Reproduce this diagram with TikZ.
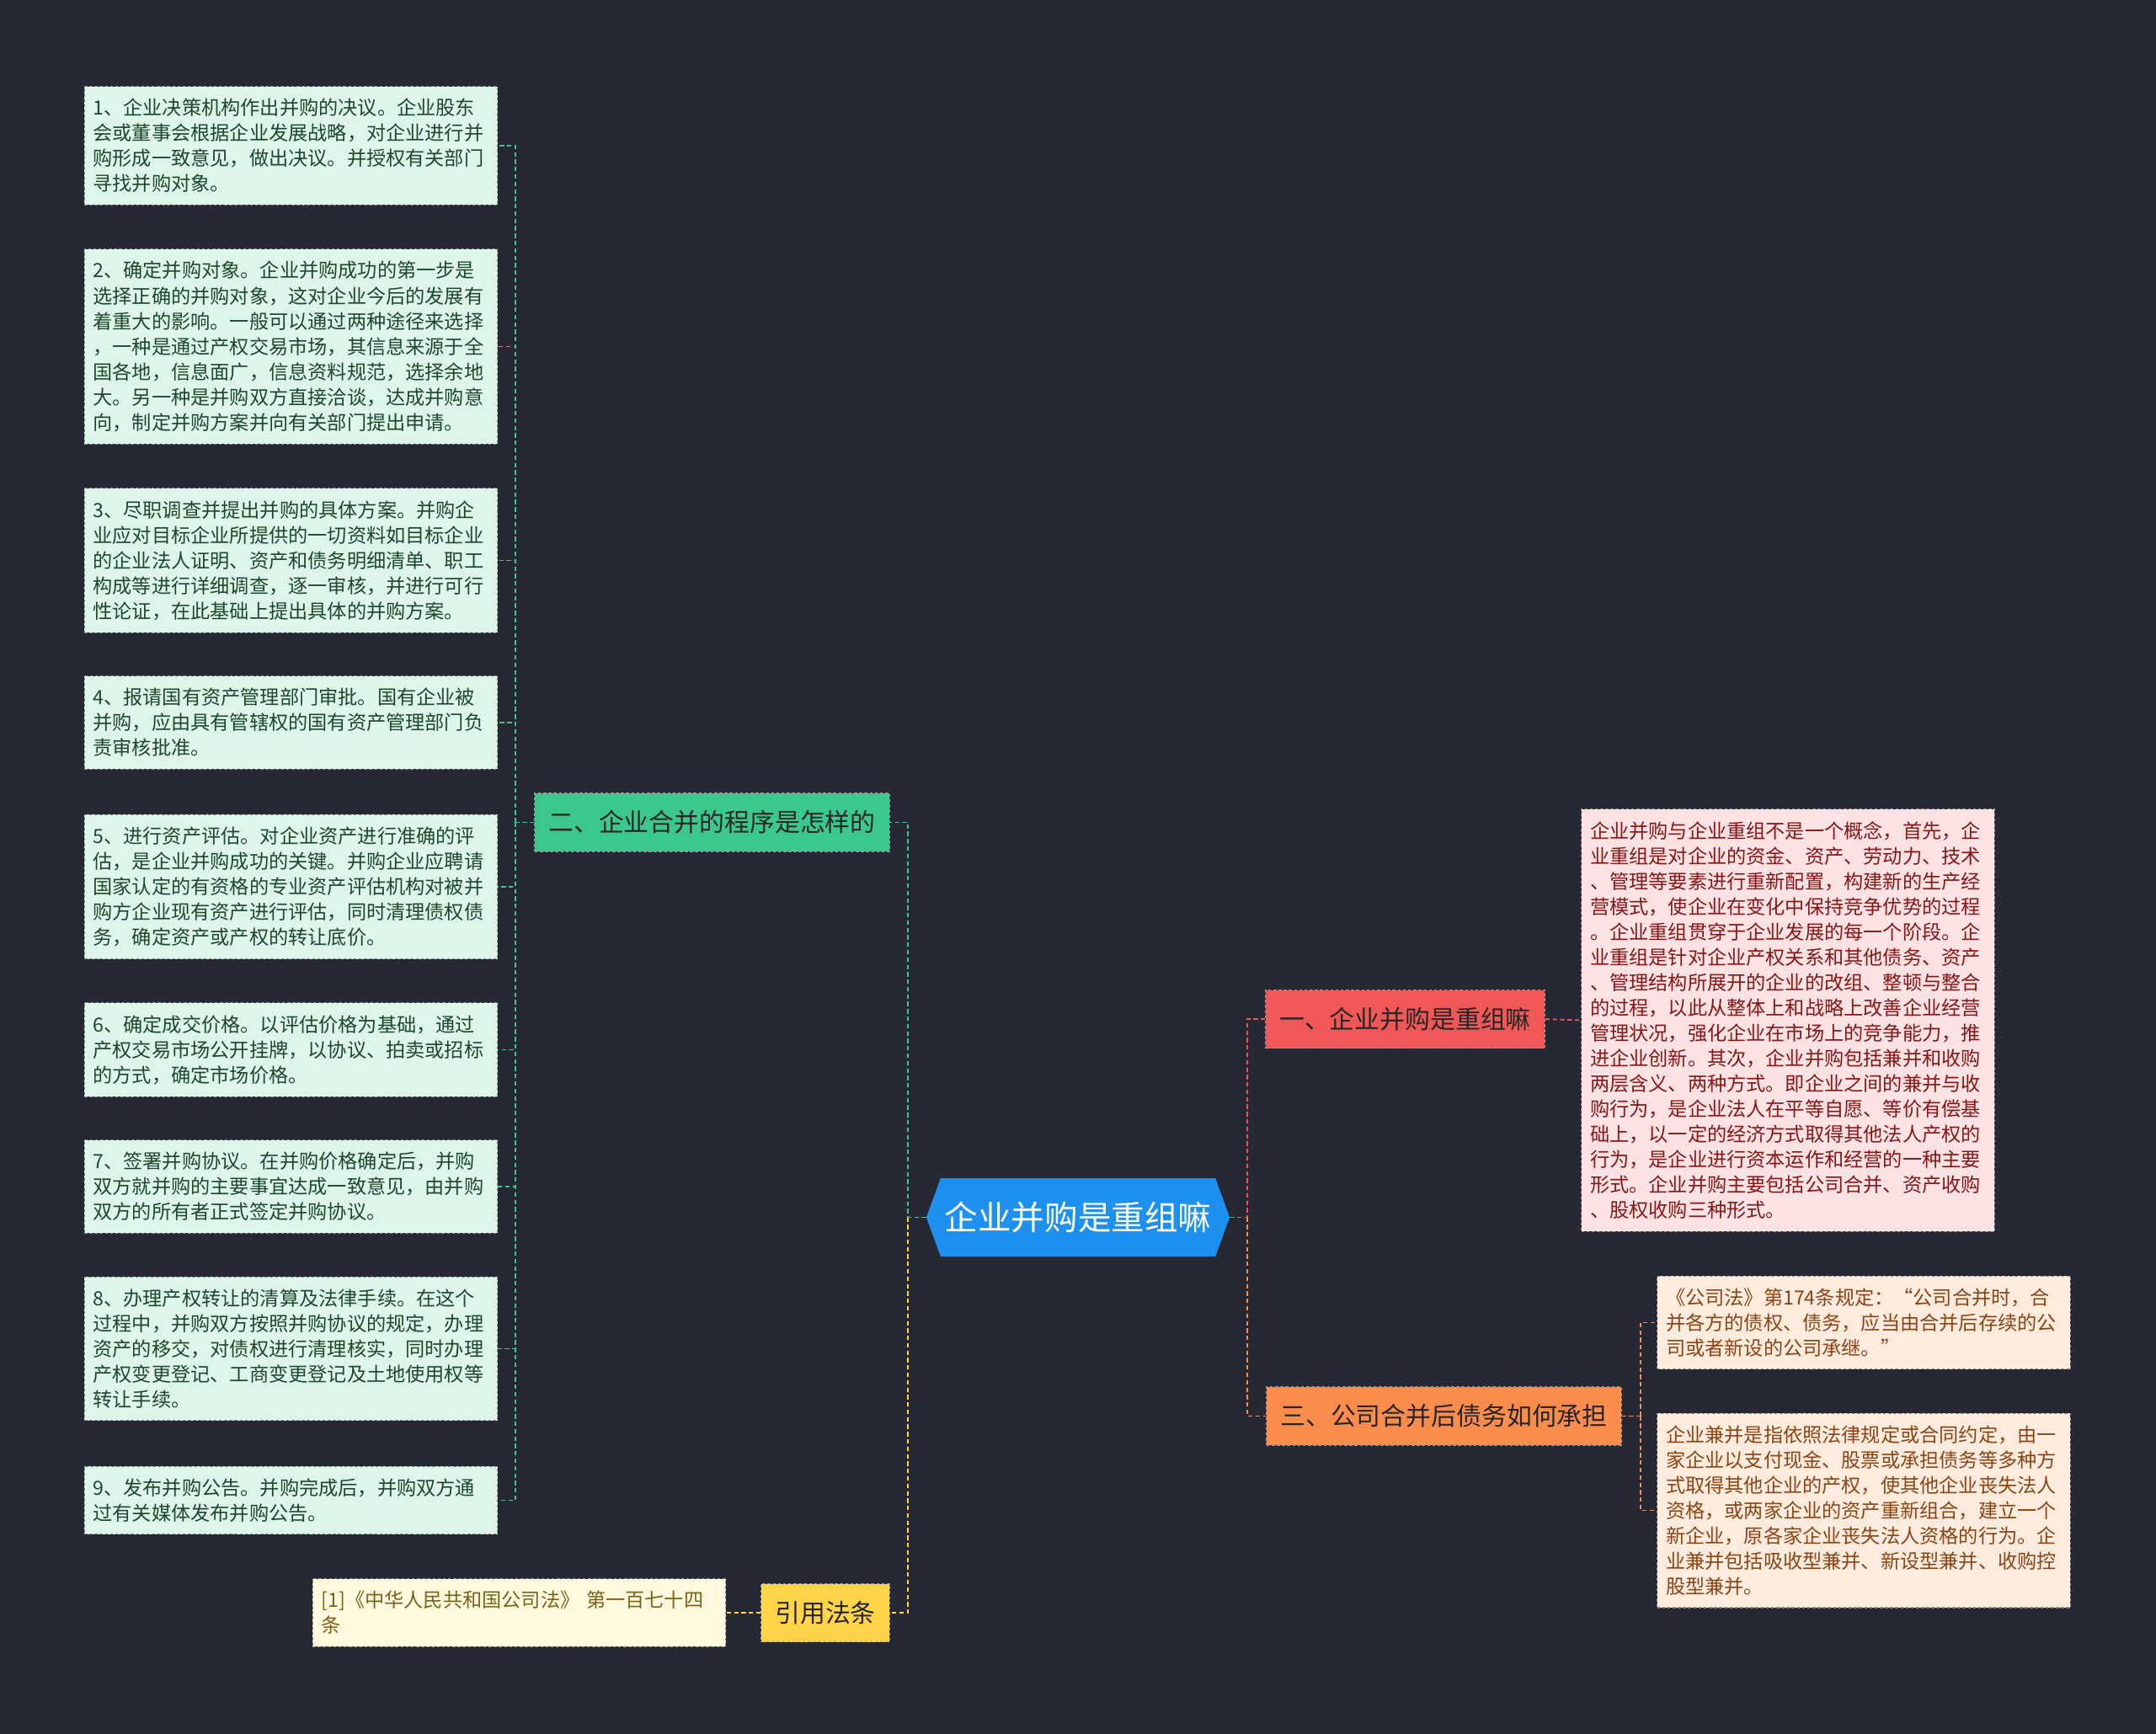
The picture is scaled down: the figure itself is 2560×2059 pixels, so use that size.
\documentclass[tikz,border=0pt]{standalone}
\usepackage{fontspec}
\setmainfont{Noto Sans CJK SC}
\usetikzlibrary{positioning}
\usetikzlibrary{shapes.symbols}

\definecolor{bgdark}{RGB}{38,41,51}
\definecolor{rootblue}{RGB}{30,144,240}
\definecolor{grnmain}{RGB}{60,200,140}
\definecolor{grnleaf}{RGB}{222,245,233}
\definecolor{grntext}{RGB}{30,72,46}
\definecolor{redmain}{RGB}{240,88,88}
\definecolor{redleaf}{RGB}{253,226,228}
\definecolor{redtext}{RGB}{135,22,22}
\definecolor{orgmain}{RGB}{250,140,78}
\definecolor{orgleaf}{RGB}{253,236,222}
\definecolor{orgtext}{RGB}{140,68,20}
\definecolor{ylwmain}{RGB}{255,212,72}
\definecolor{ylwleaf}{RGB}{253,248,222}
\definecolor{ylwtext}{RGB}{120,100,24}

\tikzset{
  leafbox/.style={rectangle, draw=black!45, dash pattern=on 2pt off 1.5pt, line width=0.6pt,
    text width=9.4cm, align=left, inner xsep=0.21cm, inner ysep=0.29cm,
    font=\fontsize{13.2pt}{17.1pt}\selectfont},
  topicbox/.style={rectangle, draw=black!40, dash pattern=on 2pt off 1.5pt, line width=0.6pt,
    inner xsep=0.33cm, minimum height=1.38cm, text=black!85,
    font=\fontsize{17pt}{20pt}\selectfont},
  link/.style={dash pattern=on 3pt off 2pt, line width=1pt}
}

\begin{document}
\begin{tikzpicture}[x=0.02cm, y=-0.02cm]
    \fill [bgdark] (0,0) rectangle (2560,2059);

    % root
    \node [signal, signal to=west and east, signal pointer angle=140, fill=rootblue, text=white,
           minimum width=7.2cm, minimum height=1.86cm, inner xsep=0.1cm,
           font=\fontsize{22.5pt}{26pt}\selectfont] (root) at (1280,1445.5) {企业并购是重组嘛};

    % topics
    \node [topicbox, fill=grnmain] (steps) at (845.5,976.5) {二、企业合并的程序是怎样的};
    \node [topicbox, fill=redmain] (isreorg) at (1668.5,1210) {一、企业并购是重组嘛};
    \node [topicbox, fill=orgmain] (debts) at (1714.5,1681.5) {三、公司合并后债务如何承担};
    \node [topicbox, fill=ylwmain] (lawref) at (980,1915) {引用法条};

    % steps
    \node [leafbox, fill=grnleaf, text=grntext] (step1) at (345.5,173) {1、企业决策机构作出并购的决议。企业股东\\会或董事会根据企业发展战略，对企业进行并\\购形成一致意见，做出决议。并授权有关部门\\寻找并购对象。};
    \node [leafbox, fill=grnleaf, text=grntext] (step2) at (345.5,411.5) {2、确定并购对象。企业并购成功的第一步是\\选择正确的并购对象，这对企业今后的发展有\\着重大的影响。一般可以通过两种途径来选择\\，一种是通过产权交易市场，其信息来源于全\\国各地，信息面广，信息资料规范，选择余地\\大。另一种是并购双方直接洽谈，达成并购意\\向，制定并购方案并向有关部门提出申请。};
    \node [leafbox, fill=grnleaf, text=grntext] (step3) at (345.5,665.5) {3、尽职调查并提出并购的具体方案。并购企\\业应对目标企业所提供的一切资料如目标企业\\的企业法人证明、资产和债务明细清单、职工\\构成等进行详细调查，逐一审核，并进行可行\\性论证，在此基础上提出具体的并购方案。};
    \node [leafbox, fill=grnleaf, text=grntext] (step4) at (345.5,858) {4、报请国有资产管理部门审批。国有企业被\\并购，应由具有管辖权的国有资产管理部门负\\责审核批准。};
    \node [leafbox, fill=grnleaf, text=grntext] (step5) at (345.5,1053) {5、进行资产评估。对企业资产进行准确的评\\估，是企业并购成功的关键。并购企业应聘请\\国家认定的有资格的专业资产评估机构对被并\\购方企业现有资产进行评估，同时清理债权债\\务，确定资产或产权的转让底价。};
    \node [leafbox, fill=grnleaf, text=grntext] (step6) at (345.5,1246.5) {6、确定成交价格。以评估价格为基础，通过\\产权交易市场公开挂牌，以协议、拍卖或招标\\的方式，确定市场价格。};
    \node [leafbox, fill=grnleaf, text=grntext] (step7) at (345.5,1409) {7、签署并购协议。在并购价格确定后，并购\\双方就并购的主要事宜达成一致意见，由并购\\双方的所有者正式签定并购协议。};
    \node [leafbox, fill=grnleaf, text=grntext] (step8) at (345.5,1601.5) {8、办理产权转让的清算及法律手续。在这个\\过程中，并购双方按照并购协议的规定，办理\\资产的移交，对债权进行清理核实，同时办理\\产权变更登记、工商变更登记及土地使用权等\\转让手续。};
    \node [leafbox, fill=grnleaf, text=grntext] (step9) at (345.5,1781.5) {9、发布并购公告。并购完成后，并购双方通\\过有关媒体发布并购公告。};

    % other leaves
    \node [leafbox, fill=redleaf, text=redtext] (concept) at (2123,1211.5) {企业并购与企业重组不是一个概念，首先，企\\业重组是对企业的资金、资产、劳动力、技术\\、管理等要素进行重新配置，构建新的生产经\\营模式，使企业在变化中保持竞争优势的过程\\。企业重组贯穿于企业发展的每一个阶段。企\\业重组是针对企业产权关系和其他债务、资产\\、管理结构所展开的企业的改组、整顿与整合\\的过程，以此从整体上和战略上改善企业经营\\管理状况，强化企业在市场上的竞争能力，推\\进企业创新。其次，企业并购包括兼并和收购\\两层含义、两种方式。即企业之间的兼并与收\\购行为，是企业法人在平等自愿、等价有偿基\\础上，以一定的经济方式取得其他法人产权的\\行为，是企业进行资本运作和经营的一种主要\\形式。企业并购主要包括公司合并、资产收购\\、股权收购三种形式。};
    \node [leafbox, fill=orgleaf, text=orgtext] (law1) at (2213,1570.5) {《公司法》第174条规定：“公司合并时，合\\并各方的债权、债务，应当由合并后存续的公\\司或者新设的公司承继。”};
    \node [leafbox, fill=orgleaf, text=orgtext] (law2) at (2213,1793.5) {企业兼并是指依照法律规定或合同约定，由一\\家企业以支付现金、股票或承担债务等多种方\\式取得其他企业的产权，使其他企业丧失法人\\资格，或两家企业的资产重新组合，建立一个\\新企业，原各家企业丧失法人资格的行为。企\\业兼并包括吸收型兼并、新设型兼并、收购控\\股型兼并。};
    \node [leafbox, fill=ylwleaf, text=ylwtext] (cite) at (616.5,1915) {[1]《中华人民共和国公司法》 第一百七十四\\条};

    % joints
    \coordinate (rootleft) at (1078,1445.5);
    \coordinate (rootright) at (1481,1445.5);
    \coordinate (stepbus) at (612,976.5);
    \coordinate (debtbus) at (1948,1681.5);

    \draw [link, grnmain] (root.west) -- (rootleft) |- (steps.east);
    \draw [link, ylwmain] (rootleft) |- (lawref.east);
    \draw [link, redmain] (root.east) -- (rootright) |- (isreorg.west);
    \draw [link, orgmain] (rootright) |- (debts.west);

    \draw [link, grnmain] (steps.west) -- (stepbus);
    \foreach \i in {1,...,9}
        \draw [link, grnmain] (stepbus) |- (step\i.east);

    \draw [link, redmain] (isreorg.east) -- (concept.west);
    \draw [link, orgmain] (debts.east) -- (debtbus);
    \draw [link, orgmain] (debtbus) |- (law1.west);
    \draw [link, orgmain] (debtbus) |- (law2.west);
    \draw [link, ylwmain] (lawref.west) -- (cite.east);
\end{tikzpicture}
\end{document}
